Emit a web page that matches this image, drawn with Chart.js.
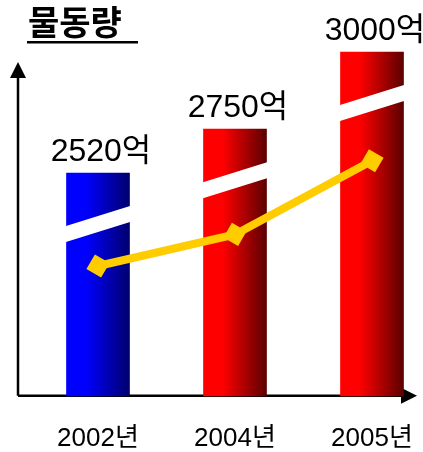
<!DOCTYPE html>
<html>
<head>
<meta charset="utf-8">
<script src="https://cdn.jsdelivr.net/npm/chart.js@4"></script>
<style>
  html, body { margin: 0; padding: 0; background: #fff; }
  #wrap { width: 423px; height: 452px; }
</style>
</head>
<body>
<div id="wrap"><canvas id="cargoChart"></canvas></div>
<script>
// chart data
const years = ['2002년', '2004년', '2005년'];
const cargoValues = [2520, 2750, 3000];        // 억, shown above each bar
const barHeights = [63.5, 76, 98];             // drawn bar height (broken axis, % of plot)
const trendLevels = [37, 46, 67];              // yellow trend line (% of plot)
const barLight = ['#0000ff', '#ff0000', '#ff0000'];
const barDark = ['#00006e', '#5c0000', '#5c0000'];

const BAR_W = 63;
const BAR_SET = 1;
const FONT = "'Liberation Sans', 'Noto Sans CJK KR', sans-serif";

document.addEventListener('DOMContentLoaded', function() {
    const ctx = document.getElementById('cargoChart').getContext('2d');

    // axes with arrow heads, drawn under the bars
    const arrowAxes = {
        id: 'arrowAxes',
        beforeDatasetsDraw(chart) {
            const c = chart.ctx;
            const bottom = chart.chartArea.bottom;
            c.save();
            c.strokeStyle = '#000';
            c.fillStyle = '#000';
            c.lineWidth = 2.5;
            c.beginPath();
            c.moveTo(18, bottom);
            c.lineTo(18, 74);
            c.moveTo(18, bottom);
            c.lineTo(404, bottom);
            c.stroke();
            c.beginPath();
            c.moveTo(18, 62); c.lineTo(10, 78); c.lineTo(26, 78); c.closePath();
            c.moveTo(417, bottom); c.lineTo(401, bottom - 8); c.lineTo(401, bottom + 8); c.closePath();
            c.fill();
            c.restore();
        }
    };

    // white slanted "break" band across each bar
    const barBreaks = {
        id: 'barBreaks',
        afterDatasetDraw(chart, args) {
            if (args.index !== BAR_SET) return;
            const c = chart.ctx;
            c.save();
            c.fillStyle = '#fff';
            args.meta.data.forEach(bar => {
                const l = bar.x - bar.width / 2 - 0.5;
                const r = bar.x + bar.width / 2 + 0.5;
                const y0 = bar.y + 53;
                c.beginPath();
                c.moveTo(l, y0);
                c.lineTo(r, y0 - 20);
                c.lineTo(r, y0 - 4);
                c.lineTo(l, y0 + 16);
                c.closePath();
                c.fill();
            });
            c.restore();
        }
    };

    // title, underline and value labels
    const texts = {
        id: 'texts',
        afterDraw(chart) {
            const c = chart.ctx;
            c.save();
            c.fillStyle = '#000';
            c.font = "bold 34px 'Noto Sans CJK KR', sans-serif";
            c.textAlign = 'left';
            c.textBaseline = 'middle';
            c.fillText('물동량', 28, 22);
            c.fillRect(27, 41, 111, 2.5);

            c.font = '32px ' + FONT;
            c.textAlign = 'center';
            c.textBaseline = 'alphabetic';
            chart.getDatasetMeta(BAR_SET).data.forEach((bar, i) => {
                c.fillText(cargoValues[i] + '억', bar.x + 3, bar.y - 12);
            });
            c.restore();
        }
    };

    new Chart(ctx, {
        data: {
            labels: years,
            datasets: [{
                type: 'line',
                data: trendLevels,
                borderColor: '#ffcc00',
                borderWidth: 8,
                tension: 0,
                pointStyle: 'rect',
                pointRotation: 30,
                pointRadius: 12,
                pointBackgroundColor: '#ffcc00',
                pointBorderWidth: 0,
                clip: false,
                order: 0
            }, {
                type: 'bar',
                data: barHeights,
                barThickness: BAR_W,
                borderWidth: 0,
                clip: false,
                order: 1,
                backgroundColor: function(c) {
                    const chart = c.chart;
                    const i = c.dataIndex;
                    if (!chart.chartArea || i === undefined) return barLight[i || 0];
                    const x = chart.scales.x.getPixelForValue(i);
                    const g = chart.ctx.createLinearGradient(x - BAR_W / 2, 0, x + BAR_W / 2, 0);
                    g.addColorStop(0, barLight[i]);
                    g.addColorStop(0.3, barLight[i]);
                    g.addColorStop(1, barDark[i]);
                    return g;
                }
            }]
        },
        options: {
            responsive: true,
            maintainAspectRatio: false,
            animation: false,
            layout: { padding: { left: 98, right: 51, top: 45, bottom: -30 } },
            plugins: {
                legend: { display: false },
                tooltip: { enabled: false },
                title: { display: false }
            },
            scales: {
                x: {
                    type: 'category',
                    offset: false,
                    grid: { display: false, drawTicks: false },
                    border: { display: false },
                    ticks: {
                        color: '#000',
                        font: { family: FONT, size: 26, lineHeight: 2.7 },
                        padding: 8,
                        maxRotation: 0,
                        autoSkip: false
                    }
                },
                y: {
                    display: false,
                    min: 0,
                    max: 100
                }
            }
        },
        plugins: [arrowAxes, barBreaks, texts]
    });
});
</script>
</body>
</html>
